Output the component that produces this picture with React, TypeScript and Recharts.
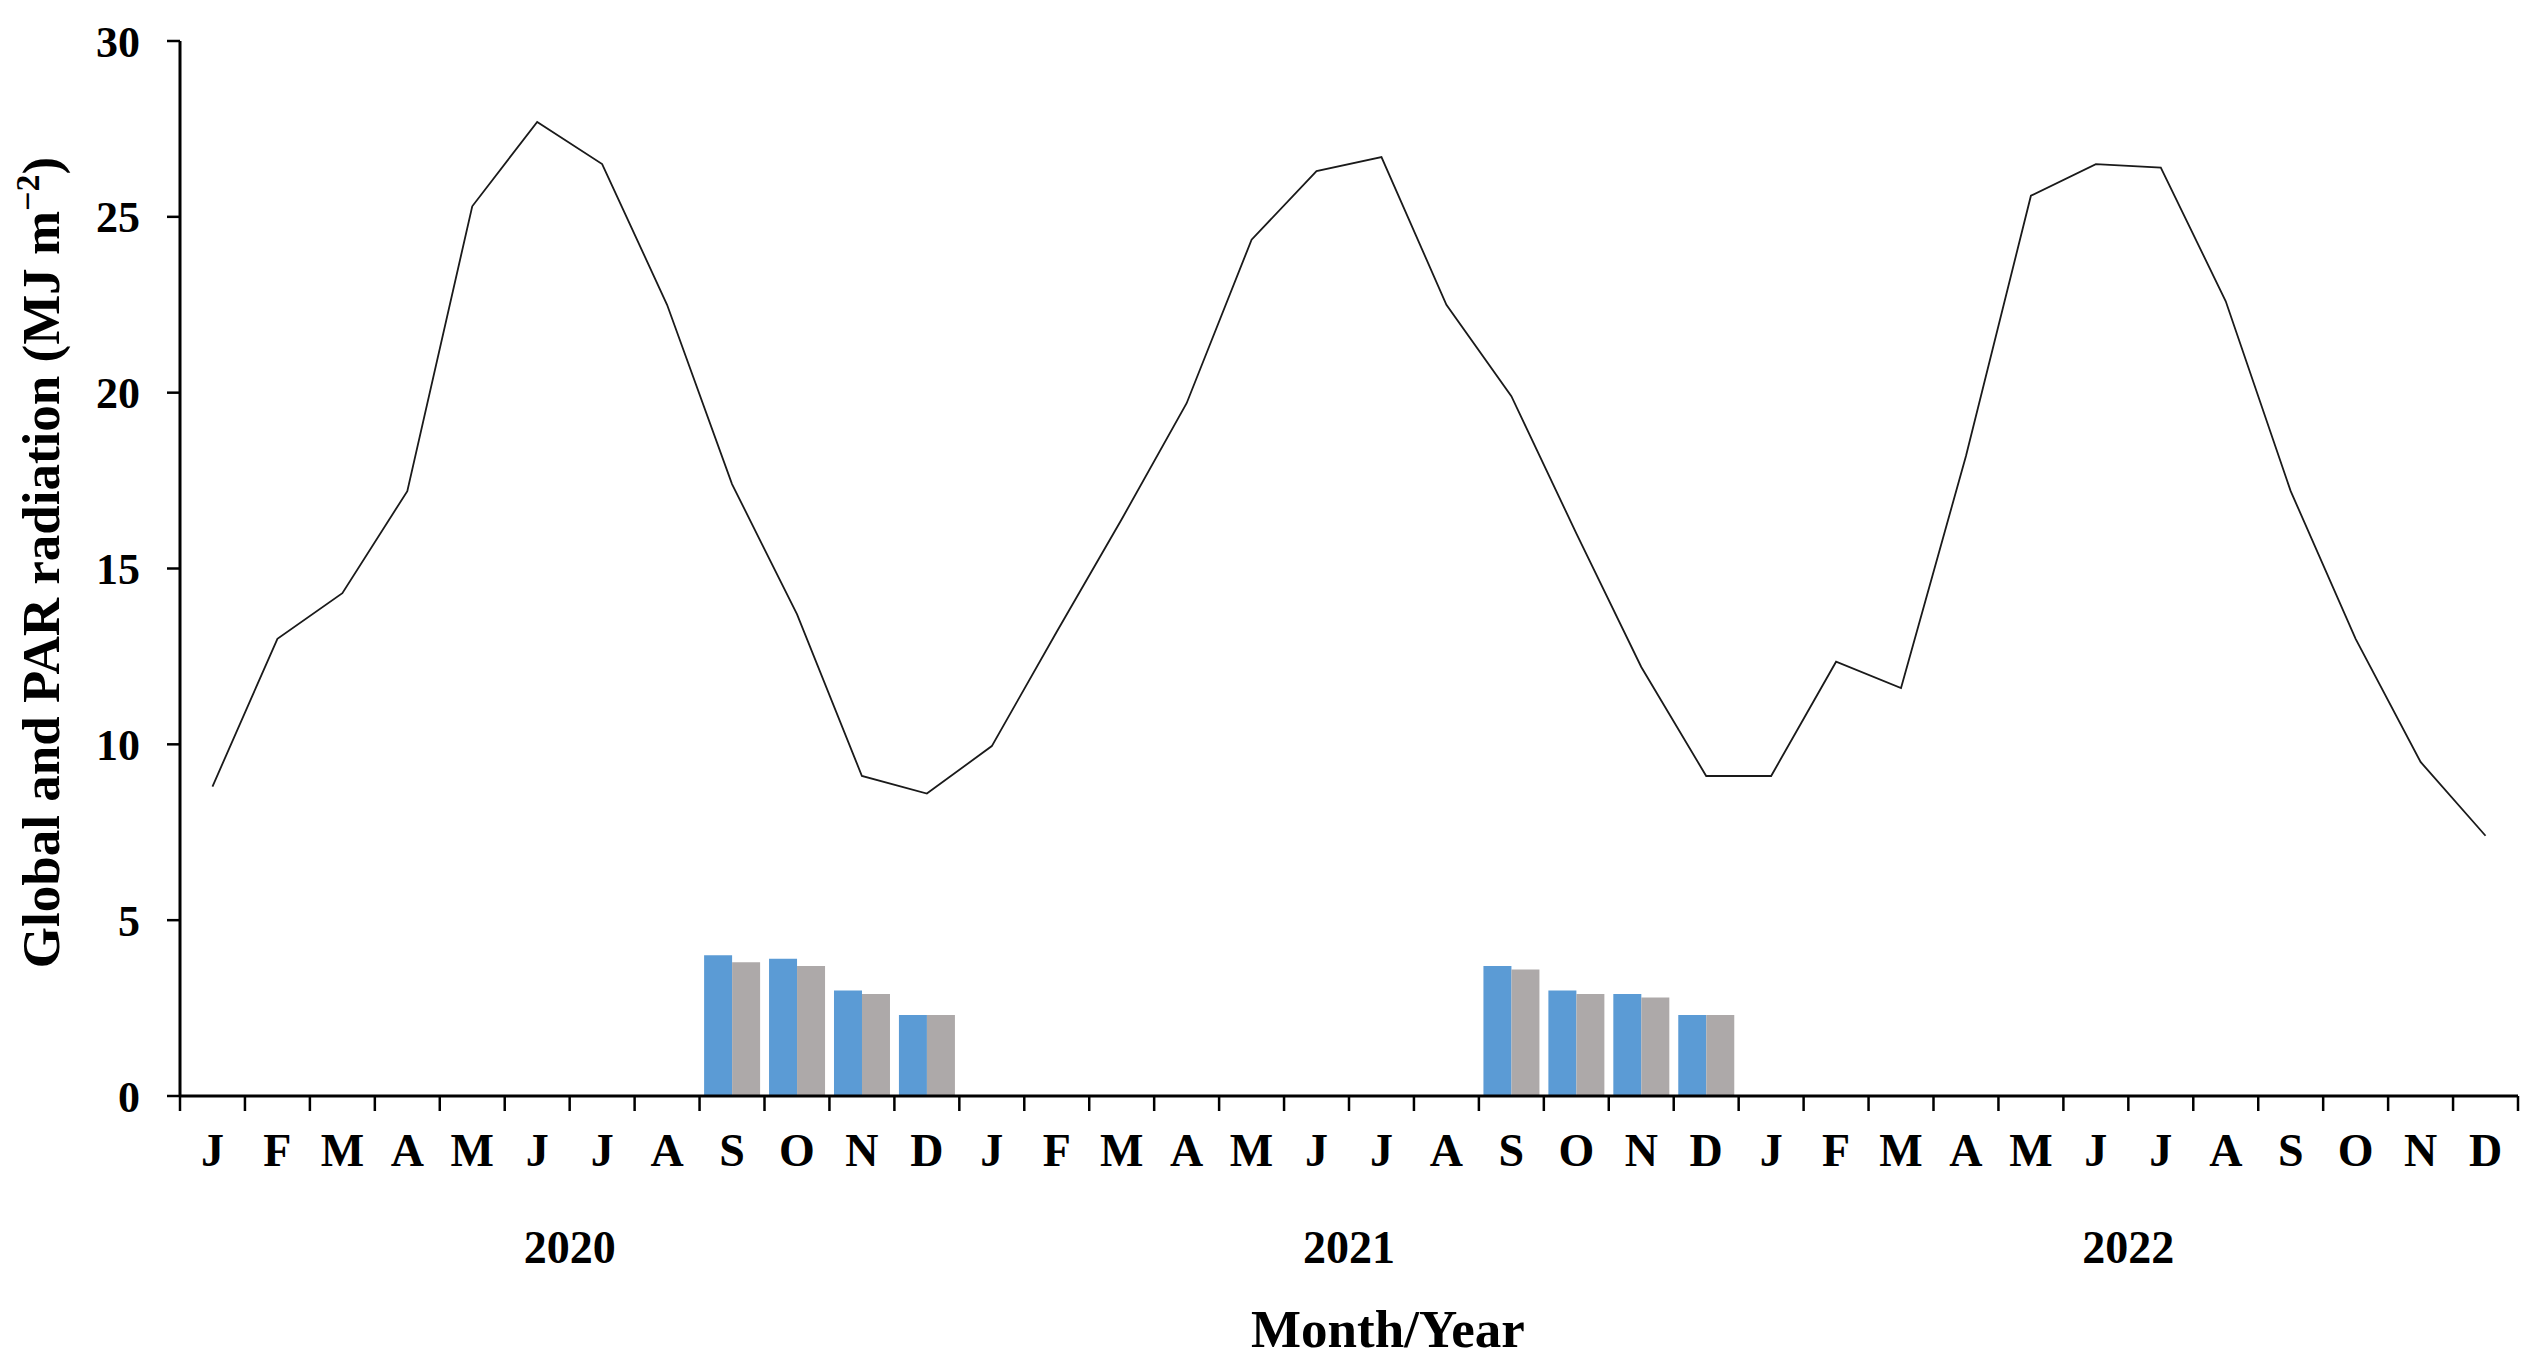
import React from 'react';
import { ComposedChart, Bar, Line, XAxis, YAxis } from 'recharts';

const months = ['J', 'F', 'M', 'A', 'M', 'J', 'J', 'A', 'S', 'O', 'N', 'D'];
const years = ['2020', '2021', '2022'];

// global radiation, monthly mean (line)
const globalRad = [
  8.8, 13.0, 14.3, 17.2, 25.3, 27.7, 26.5, 22.5, 17.4, 13.7, 9.1, 8.6,
  9.95, 13.2, 16.4, 19.7, 24.35, 26.3, 26.7, 22.5, 19.9, 16.0, 12.2, 9.1,
  9.1, 12.35, 11.6, 18.2, 25.6, 26.5, 26.4, 22.6, 17.2, 13.0, 9.5, 7.4
];

// bars, only during the growing seasons
const blueBars = [
  null, null, null, null, null, null, null, null, 4.0, 3.9, 3.0, 2.3,
  null, null, null, null, null, null, null, null, 3.7, 3.0, 2.9, 2.3,
  null, null, null, null, null, null, null, null, null, null, null, null
];
const greyBars = [
  null, null, null, null, null, null, null, null, 3.8, 3.7, 2.9, 2.3,
  null, null, null, null, null, null, null, null, 3.6, 2.9, 2.8, 2.3,
  null, null, null, null, null, null, null, null, null, null, null, null
];

const yTicks = [0, 5, 10, 15, 20, 25, 30];

const rows = years.flatMap((yr, yi) =>
  months.map((m, mi) => {
    const i = yi * 12 + mi;
    return {
      key: `${yr}-${mi}`,
      month: m,
      year: yr,
      global: globalRad[i],
      blue: blueBars[i],
      grey: greyBars[i]
    };
  })
);

const FONT = '"Times New Roman", "Liberation Serif", serif';

const MonthTick = (props: any) => {
  const { x, y, payload, index, width } = props;
  const half = payload.offset ?? width / rows.length / 2;
  const last = index === rows.length - 1;
  return (
    <g>
      <line x1={x - half} x2={x - half} y1={y} y2={y + 15} stroke="#000" strokeWidth={2.5} />
      {last && <line x1={x + half} x2={x + half} y1={y} y2={y + 15} stroke="#000" strokeWidth={2.5} />}
      <text x={x} y={y + 70} textAnchor="middle" fontFamily={FONT} fontWeight="bold" fontSize={46} fill="#000">
        {rows[index]?.month}
      </text>
    </g>
  );
};

const YearTick = (props: any) => {
  const { x, y, payload, index, width } = props;
  if (index % 12 !== 5) return null;
  const half = payload.offset ?? width / rows.length / 2;
  return (
    <text x={x + half} y={y + 67} textAnchor="middle" fontFamily={FONT} fontWeight="bold" fontSize={46} fill="#000">
      {rows[index]?.year}
    </text>
  );
};

const YTitle = (props: any) => {
  const vb = props.viewBox || { x: 0, y: 33, width: 172, height: 1055 };
  const cx = 51;
  const cy = vb.y + vb.height / 2 - 6;
  return (
    <text
      x={cx}
      y={cy}
      transform={`rotate(-90, ${cx}, ${cy})`}
      textAnchor="middle"
      fontFamily={FONT}
      fontWeight="bold"
      fontSize={53}
      fill="#000"
    >
      Global and PAR radiation (MJ m
      <tspan dy={-20} fontSize={34}>−2</tspan>
      <tspan dy={20}>)</tspan>
    </text>
  );
};

const XTitle = (props: any) => {
  const vb = props.viewBox || { x: 172, y: 1188, width: 2338, height: 162 };
  return (
    <text
      x={vb.x + vb.width / 2 + 39}
      y={vb.y + 151}
      textAnchor="middle"
      fontFamily={FONT}
      fontWeight="bold"
      fontSize={53}
      fill="#000"
    >
      Month/Year
    </text>
  );
};

export default function App() {
  return (
    <div style={{ background: '#fff' }}>
      <ComposedChart
        width={2515}
        height={1350}
        data={rows}
        margin={{ top: 33, right: 5, left: 0, bottom: 0 }}
        barCategoryGap="7%"
        barGap={0}
      >
        <XAxis
          xAxisId="m"
          dataKey="key"
          height={100}
          interval={0}
          tickSize={0}
          tickMargin={0}
          tickLine={false}
          axisLine={{ stroke: '#000', strokeWidth: 3 }}
          tick={<MonthTick />}
        />
        <XAxis
          xAxisId="yr"
          dataKey="key"
          height={162}
          interval={0}
          tickSize={0}
          tickMargin={0}
          tickLine={false}
          axisLine={false}
          tick={<YearTick />}
          label={{ content: <XTitle /> }}
        />
        <YAxis
          width={172}
          domain={[0, 30]}
          ticks={yTicks}
          interval={0}
          tickSize={13}
          tickMargin={27}
          tickLine={{ stroke: '#000', strokeWidth: 2.5 }}
          axisLine={{ stroke: '#000', strokeWidth: 3 }}
          tick={{ fill: '#000', fontSize: 44, fontWeight: 'bold', fontFamily: FONT }}
          label={{ content: <YTitle /> }}
        />
        <Bar xAxisId="m" dataKey="blue" fill="#5B9BD5" isAnimationActive={false} />
        <Bar xAxisId="m" dataKey="grey" fill="#ADA9A9" isAnimationActive={false} />
        <Line
          xAxisId="m"
          dataKey="global"
          stroke="#1a1a1a"
          strokeWidth={1.8}
          dot={false}
          activeDot={false}
          type="linear"
          isAnimationActive={false}
        />
      </ComposedChart>
    </div>
  );
}
